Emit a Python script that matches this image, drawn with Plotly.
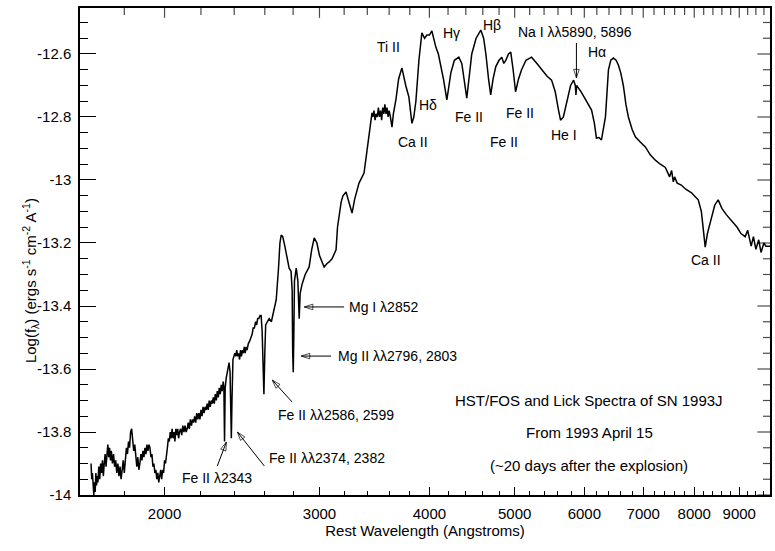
import math
import plotly.graph_objects as go

# HST/FOS ultraviolet segment: rest wavelength (Angstroms) and log flux
fos_wave = [
    1650, 1653, 1656, 1659, 1662, 1665, 1668, 1671, 1674, 1677, 1680, 1684, 1688, 1692,
    1696, 1700, 1704, 1708, 1712, 1716, 1720, 1724, 1728, 1732, 1736, 1740, 1745, 1750,
    1755, 1760, 1765, 1770, 1775, 1780, 1785, 1790, 1795, 1800, 1805, 1810, 1815, 1820,
    1825, 1830, 1835, 1840, 1845, 1850, 1855, 1860, 1865, 1870, 1875, 1880, 1885, 1890,
    1895, 1900, 1905, 1910, 1915, 1920, 1925, 1930, 1935, 1940, 1945, 1950, 1955, 1960,
    1965, 1970, 1975, 1980, 1985, 1990, 1995, 2000, 2005, 2010, 2015, 2020, 2025, 2030,
    2035, 2040, 2045, 2050, 2055, 2060, 2065, 2070, 2075, 2080, 2086, 2092, 2098, 2104,
    2110, 2116, 2122, 2128, 2134, 2140, 2146, 2152, 2158, 2164, 2170, 2176, 2182, 2188,
    2194, 2200, 2206, 2212, 2218, 2224, 2230, 2236, 2242, 2248, 2254, 2260, 2266, 2272,
    2278, 2284, 2290, 2296, 2302, 2308, 2314, 2320, 2326, 2332, 2336, 2340, 2344, 2350,
    2356, 2362, 2368, 2374, 2378, 2382, 2386, 2392, 2398, 2404, 2410, 2416, 2422, 2428,
    2434, 2440, 2446, 2452, 2458, 2464, 2470, 2476, 2482, 2490, 2500, 2508, 2515, 2522,
    2530, 2538, 2545, 2552, 2560, 2568, 2575, 2582, 2588, 2594, 2600, 2606, 2617, 2630,
    2645, 2660, 2679, 2695, 2705, 2714, 2725, 2740, 2755, 2771, 2785, 2793, 2797, 2801,
    2805, 2810, 2823, 2835, 2845, 2852, 2867, 2890, 2920, 2940, 2959, 2980, 3000, 3037,
    3060, 3077, 3100, 3133, 3145, 3158, 3175, 3190, 3216, 3240, 3267, 3290, 3327, 3371,
    3398,
]
fos_flux = [
    -13.90, -13.95, -13.93, -13.99, -14.00, -13.96, -13.99, -13.93, -13.97, -13.94, -13.96, -13.91, -13.95, -13.90,
    -13.93, -13.89, -13.94, -13.90, -13.87, -13.91, -13.86, -13.84, -13.88, -13.85, -13.89, -13.86, -13.90, -13.87,
    -13.91, -13.89, -13.93, -13.90, -13.94, -13.91, -13.95, -13.92, -13.89, -13.93, -13.88, -13.85, -13.87, -13.83,
    -13.85, -13.80, -13.79, -13.83, -13.86, -13.84, -13.89, -13.91, -13.88, -13.92, -13.90, -13.87, -13.89, -13.86,
    -13.88, -13.85, -13.87, -13.84, -13.86, -13.84, -13.85, -13.88, -13.87, -13.91, -13.90, -13.93, -13.92, -13.95,
    -13.93, -13.96, -13.94, -13.92, -13.95, -13.92, -13.93, -13.89, -13.90, -13.86, -13.85, -13.82, -13.83, -13.80,
    -13.82, -13.79, -13.82, -13.80, -13.83, -13.79, -13.81, -13.79, -13.82, -13.80, -13.79, -13.81, -13.78, -13.80,
    -13.78, -13.80, -13.79, -13.77, -13.79, -13.76, -13.78, -13.76, -13.77, -13.75, -13.77, -13.74, -13.76, -13.74,
    -13.76, -13.73, -13.75, -13.72, -13.74, -13.72, -13.73, -13.71, -13.73, -13.70, -13.72, -13.70, -13.71, -13.69,
    -13.71, -13.68, -13.70, -13.67, -13.69, -13.66, -13.68, -13.65, -13.67, -13.64, -13.66, -13.83, -13.66, -13.63,
    -13.61, -13.59, -13.58, -13.61, -13.72, -13.82, -13.70, -13.57, -13.56, -13.55, -13.56, -13.54, -13.56, -13.55,
    -13.57, -13.54, -13.56, -13.54, -13.55, -13.53, -13.55, -13.53, -13.54, -13.52, -13.51, -13.50, -13.49, -13.47,
    -13.47, -13.45, -13.46, -13.44, -13.44, -13.43, -13.43, -13.48, -13.60, -13.68, -13.55, -13.46, -13.45, -13.44,
    -13.45, -13.42, -13.38, -13.28, -13.20, -13.175, -13.18, -13.21, -13.25, -13.28, -13.29, -13.35, -13.55, -13.61,
    -13.50, -13.32, -13.28, -13.32, -13.44, -13.36, -13.33, -13.30, -13.276, -13.22, -13.184, -13.20, -13.24, -13.276,
    -13.265, -13.26, -13.25, -13.222, -13.15, -13.11, -13.07, -13.05, -13.038, -13.07, -13.105, -13.06, -13.01, -12.978,
    -12.905,
]

# Lick optical segment: rest wavelength (Angstroms) and log flux
lick_wave = [
    3398, 3420, 3442, 3450, 3460, 3470, 3479, 3490, 3500, 3510, 3520, 3530, 3540, 3550,
    3560, 3570, 3580, 3590, 3600, 3612, 3627, 3640, 3664, 3690, 3722, 3760, 3791, 3821,
    3840, 3861, 3892, 3922, 3950, 3974, 4000, 4026, 4045, 4068, 4095, 4122, 4150, 4187,
    4210, 4231, 4270, 4320, 4354, 4385, 4411, 4440, 4469, 4520, 4576, 4610, 4637, 4670,
    4696, 4725, 4759, 4800, 4834, 4860, 4885, 4920, 4949, 4980, 5012, 5050, 5091, 5150,
    5226, 5300, 5365, 5440, 5507, 5560, 5608, 5638, 5680, 5713, 5788, 5834, 5860, 5870,
    5880, 5950, 6019, 6070, 6115, 6160, 6193, 6235, 6275, 6341, 6391, 6430, 6474, 6520,
    6559, 6600, 6645, 6690, 6733, 6800, 6857, 6950, 7039, 7130, 7225, 7320, 7417, 7500,
    7540, 7573, 7600, 7650, 7733, 7830, 7937, 8000, 8084, 8150, 8200, 8233, 8280, 8363,
    8440, 8517, 8600, 8700, 8810, 8950, 9040, 9140, 9200, 9285, 9340, 9400, 9470, 9528,
    9600, 9650, 9754,
]
lick_flux = [
    -12.905, -12.84, -12.787, -12.80, -12.78, -12.81, -12.79, -12.80, -12.77, -12.80, -12.78, -12.81, -12.77, -12.79,
    -12.76, -12.79, -12.77, -12.80, -12.78, -12.80, -12.832, -12.79, -12.746, -12.68, -12.644, -12.70, -12.737, -12.82,
    -12.80, -12.75, -12.619, -12.533, -12.55, -12.54, -12.54, -12.527, -12.55, -12.578, -12.60, -12.635, -12.68, -12.746,
    -12.70, -12.66, -12.62, -12.61, -12.63, -12.69, -12.74, -12.67, -12.60, -12.55, -12.524, -12.55, -12.60, -12.68,
    -12.73, -12.68, -12.64, -12.62, -12.61, -12.63, -12.62, -12.60, -12.594, -12.65, -12.72, -12.68, -12.65, -12.62,
    -12.61, -12.63, -12.65, -12.67, -12.683, -12.72, -12.778, -12.81, -12.80, -12.77, -12.70, -12.683, -12.70, -12.73,
    -12.70, -12.72, -12.746, -12.76, -12.778, -12.82, -12.867, -12.865, -12.873, -12.80, -12.65, -12.62, -12.613, -12.62,
    -12.635, -12.66, -12.70, -12.76, -12.80, -12.84, -12.863, -12.88, -12.895, -12.92, -12.937, -12.95, -12.96, -12.99,
    -12.97, -13.006, -12.99, -13.01, -13.016, -13.03, -13.04, -13.05, -13.063, -13.10, -13.16, -13.213, -13.17, -13.127,
    -13.08, -13.063, -13.09, -13.11, -13.127, -13.15, -13.17, -13.18, -13.16, -13.21, -13.18, -13.22, -13.19, -13.23,
    -13.20, -13.21, -13.21,
]

# Axis ticks
x_major = [2000, 3000, 4000, 5000, 6000, 7000, 8000, 9000]
x_minor = list(range(1800, 9800, 200))
y_major = [-14.0, -13.8, -13.6, -13.4, -13.2, -13.0, -12.8, -12.6]
y_minor = [round(-14.0 + 0.05 * i, 2) for i in range(31)]
y_labels = ["-14", "-13.8", "-13.6", "-13.4", "-13.2", "-13", "-12.8", "-12.6"]

# Line identifications: (text, wavelength, log flux)
line_labels = [
    ("Ti II", 3598, -12.578),
    ("Ca II", 3831, -12.879),
    ("H\u03b4", 3985, -12.762),
    ("H\u03b3", 4242, -12.533),
    ("Fe II", 4435, -12.800),
    ("H\u03b2", 4710, -12.508),
    ("Fe II", 4860, -12.879),
    ("Fe II", 5067, -12.787),
    ("Na I \u03bb\u03bb5890, 5896", 5862, -12.530),
    ("H\u03b1", 6210, -12.594),
    ("He I", 5682, -12.857),
    ("Ca II", 8253, -13.254),
    ("Fe II \u03bb2343", 2296, -13.946),
]
# Labels that sit to the right of their arrows
left_labels = [
    ("Fe II \u03bb\u03bb2374, 2382", 2617, -13.883),
    ("Fe II \u03bb\u03bb2586, 2599", 2679, -13.746),
    ("Mg II \u03bb\u03bb2796, 2803", 3133, -13.559),
    ("Mg I \u03bb2852", 3226, -13.403),
]
# Arrows: (tail wavelength, tail flux, head wavelength, head flux)
arrows = [
    (2296, -13.908, 2351, -13.832),
    (2597, -13.908, 2420, -13.800),
    (2793, -13.705, 2651, -13.635),
    (3092, -13.559, 2860, -13.559),
    (3200, -13.403, 2883, -13.403),
    (5877, -12.565, 5877, -12.676),
]
caption = [
    ("HST/FOS and Lick Spectra of SN 1993J", -13.700),
    ("From 1993 April 15", -13.803),
    ("(~20 days after the explosion)", -13.905),
]
caption_wave = 6080

FONT = "Liberation Sans, Arial, Helvetica, sans-serif"
X_RANGE = [math.log10(1603), math.log10(9754)]
Y_RANGE = [-14, -12.454]

fig = go.Figure()
fig.add_trace(go.Scatter(x=fos_wave, y=fos_flux, mode="lines",
                         line=dict(color="black", width=1.5), showlegend=False))
fig.add_trace(go.Scatter(x=lick_wave, y=lick_flux, mode="lines",
                         line=dict(color="black", width=1.5), showlegend=False))

# Pointer arrows for the line identifications
for tw, tf, hw, hf in arrows:
    fig.add_trace(go.Scatter(
        x=[tw, hw], y=[tf, hf], mode="lines+markers", showlegend=False, hoverinfo="skip",
        line=dict(color="black", width=1),
        marker=dict(symbol="arrow-open", size=[0, 9], angleref="previous",
                    color="black", line=dict(color="black", width=1)),
    ))

# Inward ticks along the top and right frame edges: bar markers centred on the
# frame, with the outer half clipped away by the plot area
top_y = [Y_RANGE[1]] * len(x_minor)
top_len = [14 if v in x_major else 10 for v in x_minor]
fig.add_trace(go.Scatter(
    x=x_minor, y=top_y, mode="markers", showlegend=False, hoverinfo="skip", cliponaxis=True,
    marker=dict(symbol="line-ns", size=top_len, line=dict(color="black", width=1.2)),
))
right_x = [10 ** X_RANGE[1] * 0.9999] * len(y_minor)
right_len = [18 if v in y_major else 10 for v in y_minor]
fig.add_trace(go.Scatter(
    x=right_x, y=y_minor, mode="markers", showlegend=False, hoverinfo="skip", cliponaxis=True,
    marker=dict(symbol="line-ew", size=right_len, line=dict(color="black", width=1.2)),
))

annotations = []
for text, w, f in line_labels:
    annotations.append(dict(x=math.log10(w), y=f, xref="x", yref="y", text=text,
                            showarrow=False, font=dict(family=FONT, size=14, color="black")))
for text, w, f in left_labels:
    annotations.append(dict(x=math.log10(w), y=f, xref="x", yref="y", text=text,
                            xanchor="left", showarrow=False,
                            font=dict(family=FONT, size=14, color="black")))
for text, f in caption:
    annotations.append(dict(x=math.log10(caption_wave), y=f, xref="x", yref="y", text=text,
                            showarrow=False, font=dict(family=FONT, size=15, color="black")))
annotations.append(dict(x=-0.09, y=0.44, xref="paper", yref="paper", textangle=-90,
                        text="Log(f<sub>\u03bb</sub>) (ergs s<sup>-1</sup> cm<sup>-2</sup> A<sup>-1</sup>)",
                        showarrow=False, font=dict(family=FONT, size=15, color="black")))
fig.update_layout(annotations=annotations)

fig.update_layout(
    width=775, height=551,
    margin=dict(l=80, r=3, t=8, b=56),
    paper_bgcolor="white", plot_bgcolor="white",
    font=dict(family=FONT, size=15, color="black"),
    xaxis=dict(
        type="log", range=X_RANGE,
        tickvals=x_major, ticktext=[str(v) for v in x_major],
        ticks="inside", ticklen=8, tickwidth=1, tickcolor="black",
        minor=dict(tickvals=x_minor, ticks="inside", ticklen=4, tickwidth=1, tickcolor="black"),
        showline=True, linecolor="black", linewidth=1.5, mirror=True,
        showgrid=False, zeroline=False, ticklabelstandoff=4,
        title=dict(text="Rest Wavelength (Angstroms)", font=dict(size=15), standoff=4),
    ),
    yaxis=dict(
        range=Y_RANGE,
        tickvals=y_major, ticktext=y_labels,
        ticks="inside", ticklen=16, tickwidth=1, tickcolor="black",
        minor=dict(tickvals=y_minor, ticks="inside", ticklen=8, tickwidth=1, tickcolor="black"),
        showline=True, linecolor="black", linewidth=1.5, mirror=True,
        showgrid=False, zeroline=False, ticklabelstandoff=4,
    ),
)

fig.write_html("out.html")
